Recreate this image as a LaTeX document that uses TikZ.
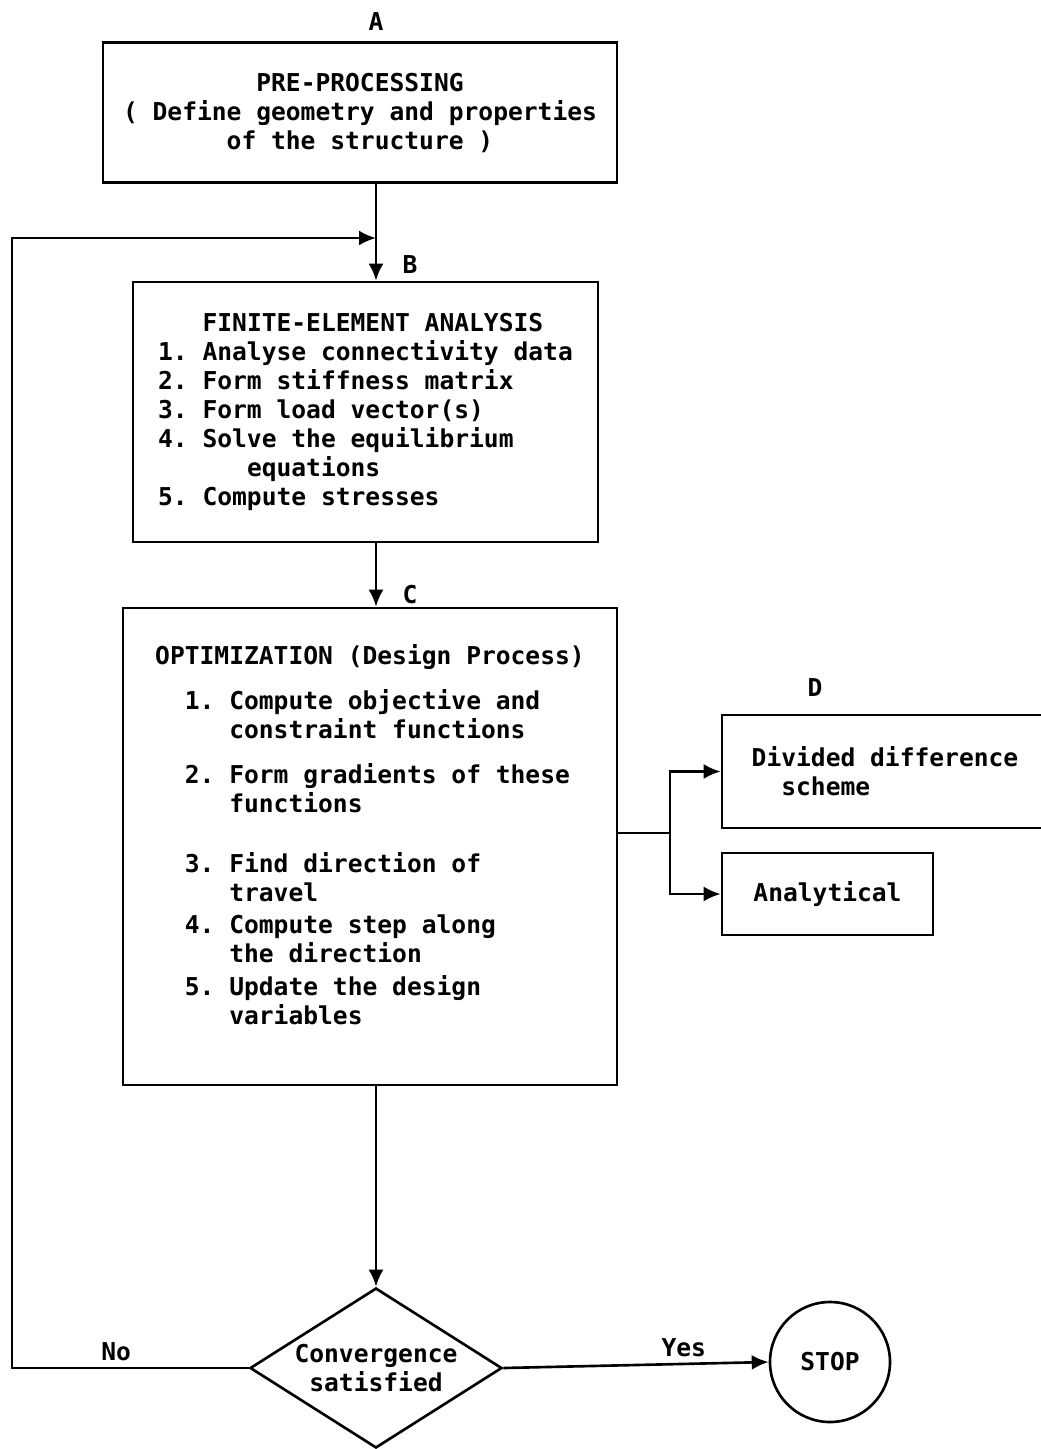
\documentclass[tikz,border=0pt]{standalone}
\usepackage{fontspec}
\setmonofont{DejaVu Sans Mono}
\usetikzlibrary{arrows.meta,positioning,shapes.geometric}

\begin{document}
\begin{tikzpicture}[
    every node/.style={font=\ttfamily\bfseries\fontsize{14}{16.5}\selectfont},
    box/.style={draw, line width=1.5pt, align=left, inner sep=0pt},
    flow/.style={line width=1.5pt, -{Latex[length=3.4mm,width=3mm]}},
    wire/.style={line width=1.5pt}
  ]
  \useasboundingbox (0,0) rectangle (20.82,-28.98);
  \coordinate (col) at (7.52,0);

  % main column
  \node[box, align=center, minimum width=10.28cm, minimum height=2.8cm] (pre) at (7.2,-2.25)
    {PRE-PROCESSING\\( Define geometry and properties\\of the structure )};
  \node[box, minimum width=9.3cm, minimum height=5.2cm] (fea) at (7.31,-8.24)
    {\phantom{1. }FINITE-ELEMENT ANALYSIS\\
     1. Analyse connectivity data\\
     2. Form stiffness matrix\\
     3. Form load vector(s)\\
     4. Solve the equilibrium\\
     \phantom{4. Sol}equations\\
     5. Compute stresses};
  \node[box, minimum width=9.88cm, minimum height=9.54cm] (opt) at (7.4,-16.93)
    {OPTIMIZATION (Design Process)\\[9pt]
     \phantom{xx}1. Compute objective and\\
     \phantom{xx1. }constraint functions\\[9pt]
     \phantom{xx}2. Form gradients of these\\
     \phantom{xx1. }functions\\[17.5pt]
     \phantom{xx}3. Find direction of\\
     \phantom{xx1. }travel\\[2pt]
     \phantom{xx}4. Compute step along\\
     \phantom{xx1. }the direction\\[2pt]
     \phantom{xx}5. Update the design\\
     \phantom{xx1. }variables\\[-3pt]\mbox{}};
  \node[draw, diamond, line width=1.5pt, aspect=1.575, inner sep=0pt, align=center,
        minimum width=5.04cm, minimum height=3.2cm] (conv) at (7.52,-27.36)
    {Convergence\\satisfied};
  \node[draw, circle, line width=1.5pt, minimum size=2.4cm] (stop) at (16.6,-27.24) {STOP};

  % gradient options
  \node[box, minimum width=6.52cm, minimum height=2.26cm] (dd) at (17.7,-15.43)
    {Divided difference\\\phantom{xx}scheme};
  \node[box, minimum width=4.22cm, minimum height=1.64cm] (an) at (16.55,-17.88) {Analytical};

  % letters
  \node (lA) at (7.52,-0.44) {A};
  \node (lB) at (8.2,-5.3) {B};
  \node (lC) at (8.2,-11.9) {C};
  \node (lD) at (16.3,-13.76) {D};

  % connectors
  \coordinate (loop) at (0.24,-4.76);
  \coordinate (split) at (13.4,-16.66);
  \draw[flow] (pre.south -| col) -- (fea.north -| col);
  \draw[flow] (fea.south -| col) -- (opt.north -| col);
  \draw[flow] (opt.south -| col) -- (conv.north);
  \draw[wire] (opt.east |- split) -- (split);
  \draw[flow] (split) |- (dd.west);
  \draw[flow] (split) |- (an.west);
  \draw[flow] (conv.east) -- node[above, pos=0.68] (lyes) {Yes} (stop.west);
  \draw[flow] (conv.west) -- node[above, pos=0.56] (lno) {No} (conv.west -| loop)
    |- (col |- loop);
\end{tikzpicture}
\end{document}
